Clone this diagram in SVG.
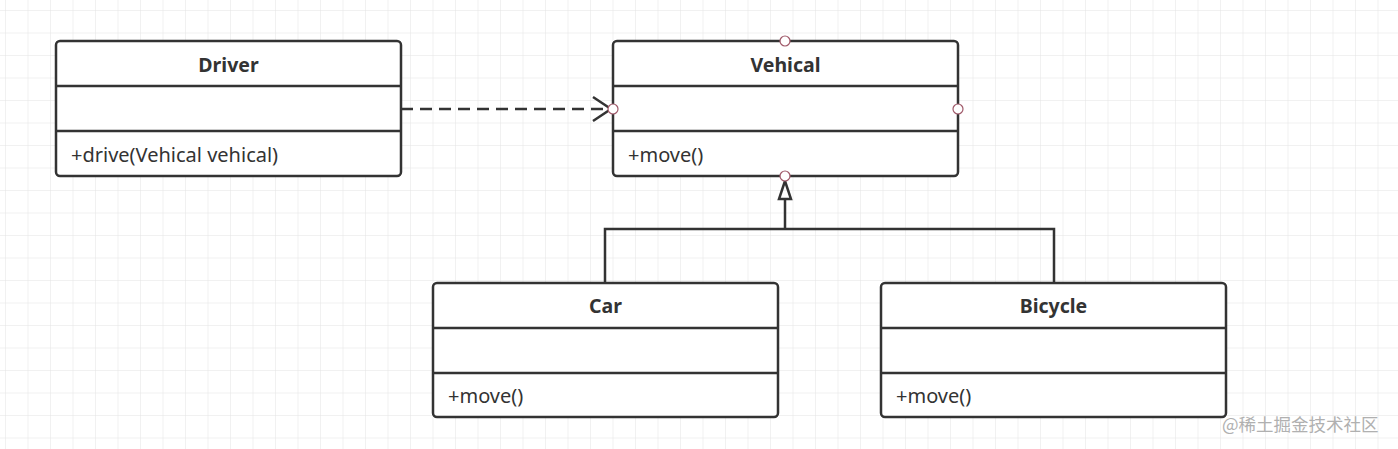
<svg xmlns="http://www.w3.org/2000/svg" width="1398" height="449" viewBox="0 0 1398 449">
<defs>
<pattern id="grid" x="5" y="10" width="22.5" height="22.5" patternUnits="userSpaceOnUse">
<path d="M0 0H22.5M0 0V22.5" fill="none" stroke="#e3e3e3" stroke-width="1"/>
</pattern>
<marker id="open" markerWidth="24" markerHeight="28" refX="20" refY="14" orient="auto" markerUnits="userSpaceOnUse">
<path d="M2 2L20 14L2 26" fill="none" stroke="#333" stroke-width="2.5"/>
</marker>
</defs>
<style>
.box{fill:#fff;stroke:#333;stroke-width:2.5}
.div{stroke:#333;stroke-width:2.5}
.t{font-family:"Noto Sans","Noto Sans CJK SC",sans-serif;font-size:20px;fill:#333}
.h{font-weight:bold;text-anchor:middle;font-size:19.5px}
.ln{fill:none;stroke:#333;stroke-width:2.5}
.pt{fill:#fff;stroke:#a05a6a;stroke-width:1.2}
.wm{font-family:"Noto Sans CJK SC","Noto Sans",sans-serif;font-size:17.5px;fill:#b0b0b0}
</style>
<rect width="1398" height="449" fill="#fff"/>
<rect width="1398" height="449" fill="url(#grid)"/>
<g id="connectors">
<path class="ln" d="M401 109H611" stroke-dasharray="12,7" marker-end="url(#open)"/>
<path class="ln" d="M605 283V229H1054V283"/>
<path class="ln" d="M785 229V199"/>
<path class="ln" d="M785 181L779 199H791Z" fill="#fff"/>
</g>
<g id="driver">
<rect class="box" x="56" y="41" width="345" height="135" rx="4"/>
<line class="div" x1="56" y1="86" x2="401" y2="86"/>
<line class="div" x1="56" y1="131" x2="401" y2="131"/>
<text class="t h" x="228.5" y="72">Driver</text>
<text class="t" x="71" y="162">+drive(Vehical vehical)</text>
</g>
<g id="vehical">
<rect class="box" x="613" y="41" width="345" height="135" rx="4"/>
<line class="div" x1="613" y1="86" x2="958" y2="86"/>
<line class="div" x1="613" y1="131" x2="958" y2="131"/>
<text class="t h" x="785.5" y="72">Vehical</text>
<text class="t" x="628" y="162">+move()</text>
<circle class="pt" cx="785" cy="41" r="5"/>
<circle class="pt" cx="613" cy="109" r="5"/>
<circle class="pt" cx="958" cy="109" r="5"/>
<circle class="pt" cx="785" cy="176" r="5"/>
</g>
<g id="car">
<rect class="box" x="433" y="283" width="345" height="134" rx="4"/>
<line class="div" x1="433" y1="328" x2="778" y2="328"/>
<line class="div" x1="433" y1="373" x2="778" y2="373"/>
<text class="t h" x="605.5" y="313">Car</text>
<text class="t" x="448" y="403">+move()</text>
</g>
<g id="bicycle">
<rect class="box" x="881" y="283" width="345" height="134" rx="4"/>
<line class="div" x1="881" y1="328" x2="1226" y2="328"/>
<line class="div" x1="881" y1="373" x2="1226" y2="373"/>
<text class="t h" x="1053.5" y="313">Bicycle</text>
<text class="t" x="896" y="403">+move()</text>
</g>
<text class="wm" x="1222" y="431">@稀土掘金技术社区</text>
</svg>
